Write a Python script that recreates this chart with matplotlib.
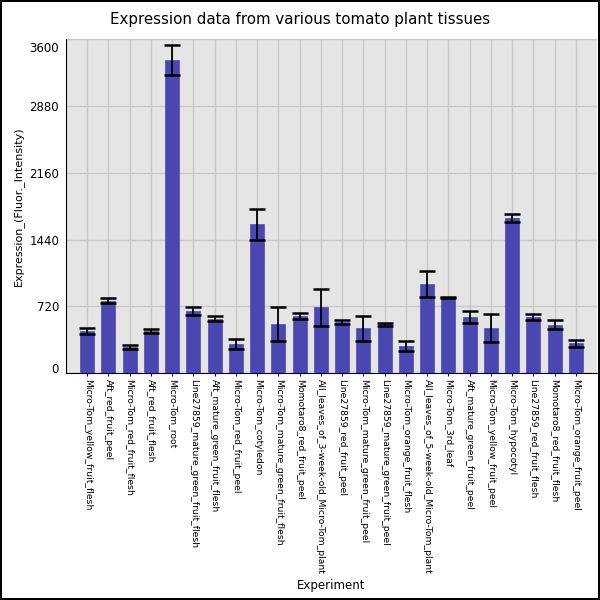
import numpy as np
import matplotlib
matplotlib.use('Agg')
import matplotlib.pyplot as plt
import matplotlib.transforms as mtransforms

# dados
experimentos = ['Micro-Tom_yellow_fruit_flesh', 'Aft_red_fruit_peel', 'Micro-Tom_red_fruit_flesh',
                'Aft_red_fruit_flesh', 'Micro-Tom_root', 'Line27859_mature_green_fruit_flesh',
                'Aft_mature_green_fruit_flesh', 'Micro-Tom_red_fruit_peel', 'Micro-Tom_cotyledon',
                'Micro-Tom_mature_green_fruit_flesh', 'Momotaro8_red_fruit_peel',
                'All_leaves_of_3-week-old_Micro-Tom_plant', 'Line27859_red_fruit_peel',
                'Micro-Tom_mature_green_fruit_peel', 'Line27859_mature_green_fruit_peel',
                'Micro-Tom_orange_fruit_flesh', 'All_leaves_of_5-week-old_Micro-Tom_plant',
                'Micro-Tom_3rd_leaf', 'Aft_mature_green_fruit_peel', 'Micro-Tom_yellow_fruit_peel',
                'Micro-Tom_hypocotyl', 'Line27859_red_fruit_flesh', 'Momotaro8_red_fruit_flesh',
                'Micro-Tom_orange_fruit_peel']
expressao = [454, 782, 284, 458, 3376, 668, 589, 316, 1603, 530, 618, 710, 550, 485,
             525, 293, 958, 812, 604, 485, 1672, 608, 523, 320]
erro = [34, 27, 22, 20, 160, 43, 25, 57, 163, 178, 32, 199, 23, 133,
        14, 50, 142, 7, 65, 154, 41, 32, 47, 40]
yticks = [0, 720, 1440, 2160, 2880, 3600]

fig = plt.figure(figsize=(6, 6), dpi=100)
fig.patch.set_edgecolor('black')
fig.patch.set_linewidth(1.5)
ax = fig.add_axes([0.11, 0.378, 0.885, 0.557])
ax.set_facecolor('#e5e5e5')

x = np.arange(len(experimentos))
ax.bar(x, expressao, width=0.66, color='#4b47b0', edgecolor='#5a57bb', linewidth=0.6, zorder=3)
ax.errorbar(x, expressao, yerr=erro, fmt='none', ecolor='black', elinewidth=1.3,
            capsize=6, capthick=1.8, zorder=4)

ax.set_xlim(-1, len(experimentos))
ax.set_ylim(0, 3600)
ax.set_yticks(yticks)
ax.set_xticks(x)
ax.set_xticklabels(experimentos, rotation=270, fontsize=6.7, va='top', ha='center')
ax.tick_params(axis='y', labelsize=8.5, length=0, pad=5)
ax.tick_params(axis='x', length=2, pad=2)
ax.grid(True, color='#c8c8c8', linewidth=1, zorder=0)
ax.set_axisbelow(True)
for s in ['top', 'right']:
    ax.spines[s].set_visible(False)

# rótulos das pontas ficam dentro do eixo, como no original (pixels)
desloc = [5, 0, 0, 0, 0, -8]
for lbl, d in zip(ax.get_yticklabels(), desloc):
    lbl.set_transform(lbl.get_transform() + mtransforms.ScaledTranslation(0, d / 100, fig.dpi_scale_trans))

fig.suptitle('Expression data from various tomato plant tissues', fontsize=10.8, x=0.5, y=0.98)
ax.set_ylabel('Expression_(Fluor._Intensity)', fontsize=8)
ax.set_xlabel('Experiment', fontsize=8.5, labelpad=4)

fig.savefig('out.png', dpi=100)
